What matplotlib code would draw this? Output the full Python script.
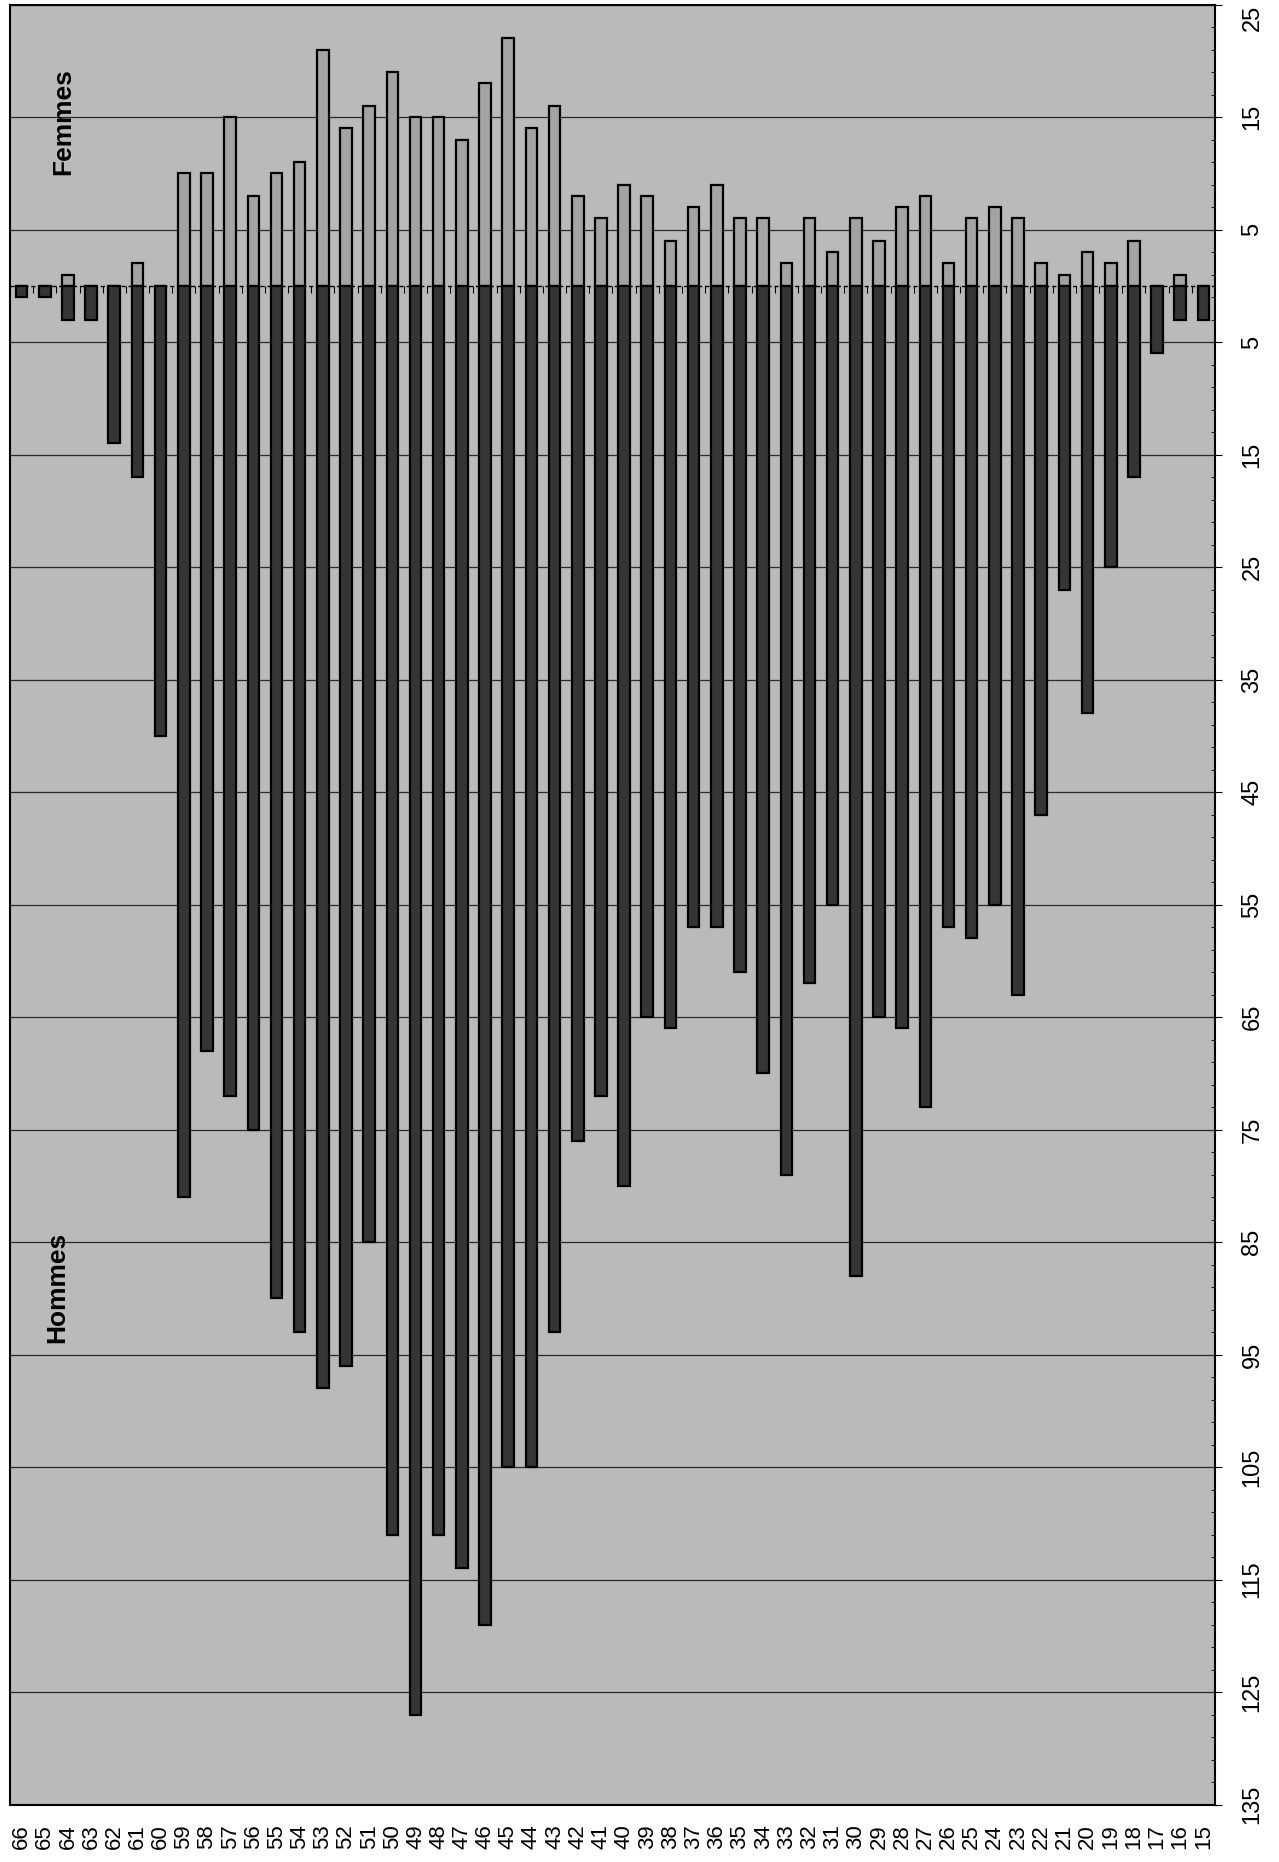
import numpy as np
import matplotlib
matplotlib.use("Agg")
import matplotlib.pyplot as plt

plt.rcParams['font.family'] = ['Liberation Sans', 'DejaVu Sans']

ages = list(range(66, 14, -1))
femmes = [0, 0, 1, 0, 0, 2, 0, 10, 10, 15, 8, 10, 11, 21, 14, 16, 19, 15, 15, 13,
          18, 22, 14, 16, 8, 6, 9, 8, 4, 7, 9, 6, 6, 2, 6, 3, 6, 4, 7, 8,
          2, 6, 7, 6, 2, 1, 3, 2, 4, 0, 1, 0]
hommes = [1, 1, 3, 3, 14, 17, 40, 81, 68, 72, 75, 90, 93, 98, 96, 85, 111, 127, 111, 114,
          119, 105, 105, 93, 76, 72, 80, 65, 66, 57, 57, 61, 70, 79, 62, 55, 88, 65, 66, 73,
          57, 58, 55, 63, 47, 27, 38, 25, 17, 6, 3, 3]
value_ticks = [25, 15, 5, -5, -15, -25, -35, -45, -55, -65, -75, -85, -95, -105, -115, -125, -135]

W, H = 1279, 1862
fig = plt.figure(figsize=(W / 100, H / 100), dpi=100)
fig.patch.set_facecolor('white')
left, right, top, bottom = 10, 1215, 4.5, 1804.5
ax = fig.add_axes([left / W, 1 - bottom / H, (right - left) / W, (bottom - top) / H])
ax.set_facecolor('#bababa')

x = np.arange(len(ages))
ax.set_xlim(-0.5, len(ages) - 0.5)
ax.set_ylim(-135, 25)

# grid
for v in value_ticks:
    ax.axhline(v, color='#2a2a2a', lw=0.9, zorder=1)

ax.bar(x, femmes, width=0.5, color='#a3a3a3', edgecolor='black', linewidth=1.6, zorder=3)
ax.bar(x, [-h for h in hommes], width=0.5, color='#353535', edgecolor='black', linewidth=1.6, zorder=3)

# category axis at zero
ax.axhline(0, color='black', lw=1.0, ls=(0, (3, 2)), zorder=2)
ax.vlines(np.arange(len(ages) + 1) - 0.5, -0.6, 0, color='black', lw=0.8, zorder=2)

ax.text(1.8, 14.6, 'Femmes', rotation=90, ha='center', va='center',
        fontsize=19, fontweight='bold', color='black', zorder=5)
ax.text(1.55, -89, 'Hommes', rotation=90, ha='center', va='center',
        fontsize=19, fontweight='bold', color='black', zorder=5)

ax.set_xticks(x)
ax.set_xticklabels([str(a) for a in ages], rotation=90, fontsize=16)
ax.tick_params(axis='x', length=0, pad=14)

ax.yaxis.tick_right()
ax.set_yticks(value_ticks)
ylabels = ax.set_yticklabels([str(abs(v)) for v in value_ticks], rotation=90, va='center', fontsize=17)
ylabels[0].set_va('top')
ax.set_yticks(np.arange(-135, 26, 2), minor=True)
ax.tick_params(axis='y', which='major', length=5, width=0.8, pad=14, direction='out')
ax.tick_params(axis='y', which='minor', length=3, width=0.6, direction='in')

for s in ax.spines.values():
    s.set_color('black')
    s.set_linewidth(1.5)

fig.savefig('out.png', dpi=100, facecolor='white')
